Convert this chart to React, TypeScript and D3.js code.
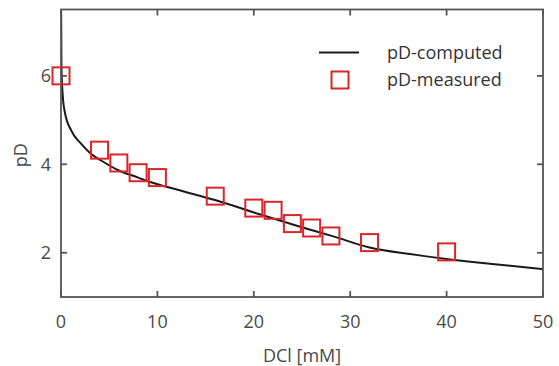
import React from "react";
import * as d3 from "d3";

const xTicks = [0, 10, 20, 30, 40, 50];
const yTicks = [2, 4, 6];

const measuredX = [0, 4, 6, 8, 10, 16, 20, 22, 24, 26, 28, 32, 40];
const measuredY = [6.0, 4.32, 4.03, 3.81, 3.7, 3.28, 3.01, 2.96, 2.66, 2.56, 2.38, 2.23, 2.02];

const computedX = [0.005, 0.05, 0.17, 0.38, 1.07, 2.1, 3.14, 4.2, 6, 8, 9.24, 12, 16.15, 20.6, 24.8, 28.25, 32, 36.2, 40, 45, 50];
const computedY = [7.8, 6.2, 5.59, 5.2, 4.76, 4.46, 4.23, 4.08, 3.86, 3.7, 3.6, 3.43, 3.18, 2.87, 2.59, 2.37, 2.12, 1.97, 1.86, 1.74, 1.63];

const W = 559;
const H = 366;
const left = 61;
const right = 543;
const top = 9.5;
const bottom = 297;

export default function App() {
  const x = d3.scaleLinear().domain([0, 50]).range([left, right]);
  const y = d3.scaleLinear().domain([1, 7.5]).range([bottom, top]);
  const axisColor = "#555";
  const textColor = "#4a4a4a";
  const red = "#d9262b";
  const font = "'Open Sans', sans-serif";
  const fs = 18;
  const ms = 17;

  const line = d3
    .line<number>()
    .x((_, i) => x(computedX[i]))
    .y((d) => y(d))
    .curve(d3.curveMonotoneX);

  return (
    <svg
      width={W}
      height={H}
      style={{ position: "fixed", left: 0, top: 0, background: "#fff" }}
      fontFamily={font}
    >
      <defs>
        <clipPath id="plotclip">
          <rect x={left} y={top} width={right - left} height={bottom - top} />
        </clipPath>
      </defs>
      <rect x={0} y={0} width={W} height={H} fill="#fff" />
      <path
        d={line(computedY) || ""}
        fill="none"
        stroke="#1a1a1a"
        strokeWidth={2}
        clipPath="url(#plotclip)"
      />
      <rect
        x={left}
        y={top}
        width={right - left}
        height={bottom - top}
        fill="none"
        stroke={axisColor}
        strokeWidth={1.8}
      />
      {xTicks.map((t) => (
        <g key={"xt" + t}>
          <line x1={x(t)} x2={x(t)} y1={bottom} y2={bottom - 6} stroke={axisColor} strokeWidth={1.8} />
          <line x1={x(t)} x2={x(t)} y1={top} y2={top + 6} stroke={axisColor} strokeWidth={1.8} />
          <text x={x(t)} y={bottom + 31} textAnchor="middle" fontSize={fs} fill={textColor}>
            {t}
          </text>
        </g>
      ))}
      {yTicks.map((t) => (
        <g key={"yt" + t}>
          <line x1={left} x2={left + 6} y1={y(t)} y2={y(t)} stroke={axisColor} strokeWidth={1.8} />
          <line x1={right} x2={right - 6} y1={y(t)} y2={y(t)} stroke={axisColor} strokeWidth={1.8} />
          <text x={left - 10} y={y(t) + 6.5} textAnchor="end" fontSize={fs} fill={textColor}>
            {t}
          </text>
        </g>
      ))}
      {measuredX.map((v, i) => (
        <rect
          key={"m" + i}
          x={x(v) - ms / 2}
          y={y(measuredY[i]) - ms / 2}
          width={ms}
          height={ms}
          fill="none"
          stroke={red}
          strokeWidth={2}
        />
      ))}
      <text x={(left + right) / 2} y={362} textAnchor="middle" fontSize={fs} fill={textColor}>
        DCl [mM]
      </text>
      <text
        transform={`translate(27,${(top + bottom) / 2 + 2}) rotate(-90)`}
        textAnchor="middle"
        fontSize={fs}
        fill={textColor}
      >
        pD
      </text>
      <line x1={319} x2={359} y1={52.5} y2={52.5} stroke="#1a1a1a" strokeWidth={2} />
      <text x={387} y={59} fontSize={fs} fill="#333">
        pD-computed
      </text>
      <rect x={340 - ms / 2} y={80 - ms / 2} width={ms} height={ms} fill="none" stroke={red} strokeWidth={2} />
      <text x={387} y={86} fontSize={fs} fill="#333">
        pD-measured
      </text>
    </svg>
  );
}
